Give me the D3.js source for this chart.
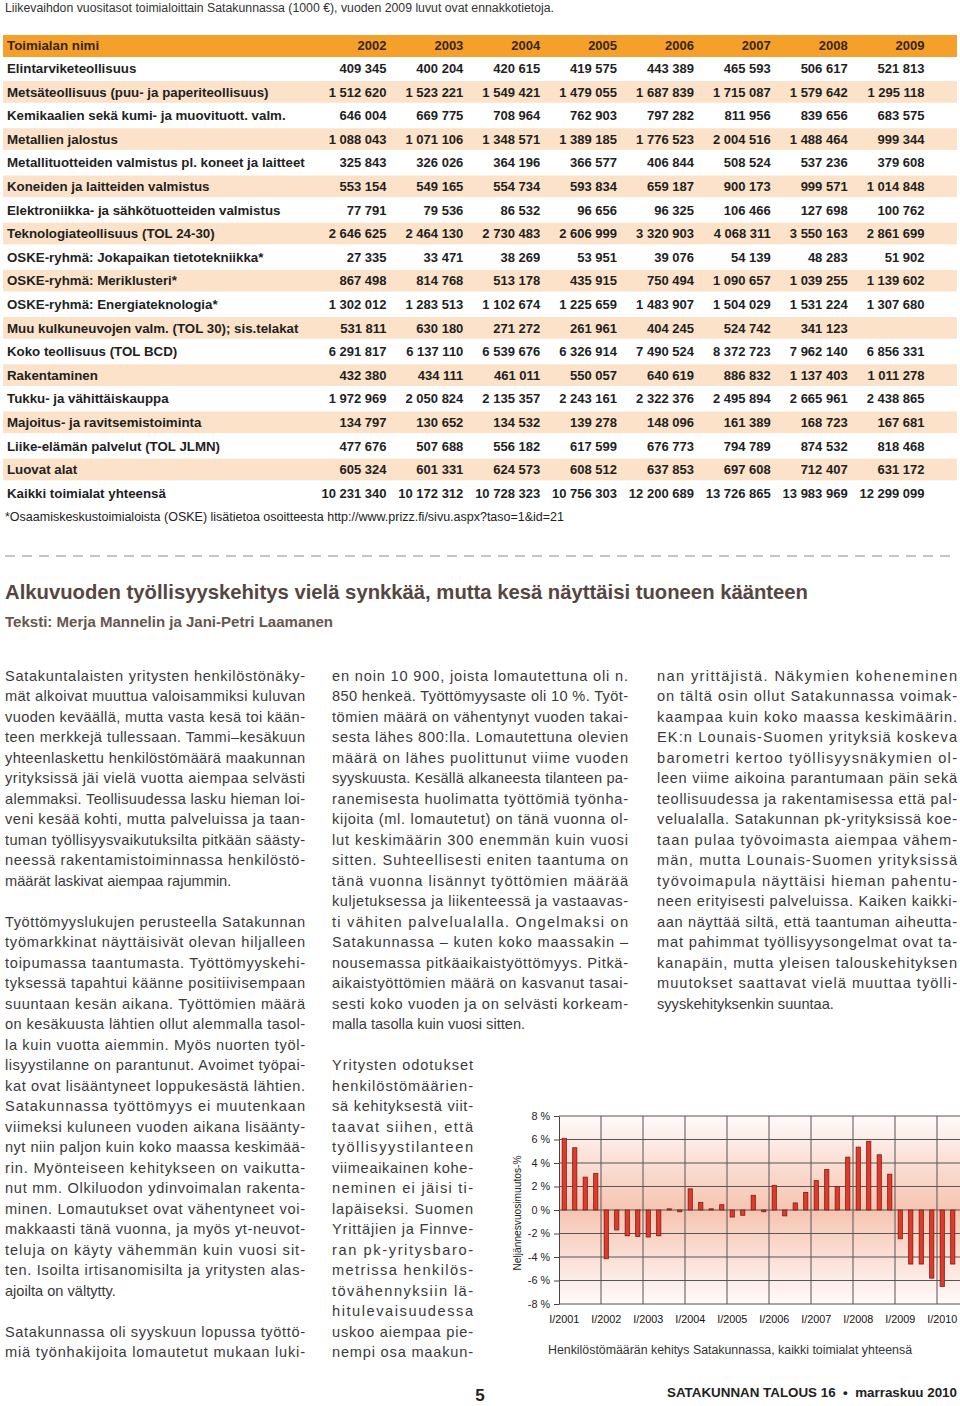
<!DOCTYPE html>
<html><head><meta charset="utf-8">
<script src="https://cdn.jsdelivr.net/npm/d3@7/dist/d3.min.js"></script>
<style>
html,body{margin:0;padding:0;background:#fff;}
svg{display:block;}
text{font-family:"Liberation Sans",Arial,sans-serif;}
</style></head>
<body>
<script>
// ---------- DATA ----------
const tableCaption = "Liikevaihdon vuositasot toimialoittain Satakunnassa (1000 €), vuoden 2009 luvut ovat ennakkotietoja.";
const tableHeader = "Toimialan nimi";
const tableYears = ["2002","2003","2004","2005","2006","2007","2008","2009"];
const industries = [
 "Elintarviketeollisuus",
 "Metsäteollisuus (puu- ja paperiteollisuus)",
 "Kemikaalien sekä kumi- ja muovituott. valm.",
 "Metallien jalostus",
 "Metallituotteiden valmistus pl. koneet ja laitteet",
 "Koneiden ja laitteiden valmistus",
 "Elektroniikka- ja sähkötuotteiden valmistus",
 "Teknologiateollisuus (TOL 24-30)",
 "OSKE-ryhmä: Jokapaikan tietotekniikka*",
 "OSKE-ryhmä: Meriklusteri*",
 "OSKE-ryhmä: Energiateknologia*",
 "Muu kulkuneuvojen valm. (TOL 30); sis.telakat",
 "Koko teollisuus (TOL BCD)",
 "Rakentaminen",
 "Tukku- ja vähittäiskauppa",
 "Majoitus- ja ravitsemistoiminta",
 "Liike-elämän palvelut (TOL JLMN)",
 "Luovat alat",
 "Kaikki toimialat yhteensä"
];
const turnover = [
 [409345,400204,420615,419575,443389,465593,506617,521813],
 [1512620,1523221,1549421,1479055,1687839,1715087,1579642,1295118],
 [646004,669775,708964,762903,797282,811956,839656,683575],
 [1088043,1071106,1348571,1389185,1776523,2004516,1488464,999344],
 [325843,326026,364196,366577,406844,508524,537236,379608],
 [553154,549165,554734,593834,659187,900173,999571,1014848],
 [77791,79536,86532,96656,96325,106466,127698,100762],
 [2646625,2464130,2730483,2606999,3320903,4068311,3550163,2861699],
 [27335,33471,38269,53951,39076,54139,48283,51902],
 [867498,814768,513178,435915,750494,1090657,1039255,1139602],
 [1302012,1283513,1102674,1225659,1483907,1504029,1531224,1307680],
 [531811,630180,271272,261961,404245,524742,341123,null],
 [6291817,6137110,6539676,6326914,7490524,8372723,7962140,6856331],
 [432380,434111,461011,550057,640619,886832,1137403,1011278],
 [1972969,2050824,2135357,2243161,2322376,2495894,2665961,2438865],
 [134797,130652,134532,139278,148096,161389,168723,167681],
 [477676,507688,556182,617599,676773,794789,874532,818468],
 [605324,601331,624573,608512,637853,697608,712407,631172],
 [10231340,10172312,10728323,10756303,12200689,13726865,13983969,12299099]
];
const footnote = "*Osaamiskeskustoimialoista (OSKE) lisätietoa osoitteesta http://www.prizz.fi/sivu.aspx?taso=1&id=21";
const headline = "Alkuvuoden työllisyyskehitys vielä synkkää, mutta kesä näyttäisi tuoneen käänteen";
const byline = "Teksti: Merja Mannelin ja Jani-Petri Laamanen";

const para1 = [
 "Satakuntalaisten yritysten henkilöstönäky-",
 "mät alkoivat muuttua valoisammiksi kuluvan",
 "vuoden keväällä, mutta vasta kesä toi kään-",
 "teen merkkejä tullessaan. Tammi–kesäkuun",
 "yhteenlaskettu henkilöstömäärä maakunnan",
 "yrityksissä jäi vielä vuotta aiempaa selvästi",
 "alemmaksi. Teollisuudessa lasku hieman loi-",
 "veni kesää kohti, mutta palveluissa ja taan-",
 "tuman työllisyysvaikutuksilta pitkään säästy-",
 "neessä rakentamistoiminnassa henkilöstö-",
 "määrät laskivat aiempaa rajummin."
];
const para2 = [
 "Työttömyyslukujen perusteella Satakunnan",
 "työmarkkinat näyttäisivät olevan hiljalleen",
 "toipumassa taantumasta. Työttömyyskehi-",
 "tyksessä tapahtui käänne positiivisempaan",
 "suuntaan kesän aikana. Työttömien määrä",
 "on kesäkuusta lähtien ollut alemmalla tasol-",
 "la kuin vuotta aiemmin. Myös nuorten työl-",
 "lisyystilanne on parantunut. Avoimet työpai-",
 "kat ovat lisääntyneet loppukesästä lähtien.",
 "Satakunnassa työttömyys ei muutenkaan",
 "viimeksi kuluneen vuoden aikana lisäänty-",
 "nyt niin paljon kuin koko maassa keskimää-",
 "rin. Myönteiseen kehitykseen on vaikutta-",
 "nut mm. Olkiluodon ydinvoimalan rakenta-",
 "minen. Lomautukset ovat vähentyneet voi-",
 "makkaasti tänä vuonna, ja myös yt-neuvot-",
 "teluja on käyty vähemmän kuin vuosi sit-",
 "ten. Isoilta irtisanomisilta ja yritysten alas-",
 "ajoilta on vältytty."
];
const para3a = [
 "Satakunnassa oli syyskuun lopussa työttö-",
 "miä työnhakijoita lomautetut mukaan luki-"
];
const para3b = [
 "en noin 10 900, joista lomautettuna oli n.",
 "850 henkeä. Työttömyysaste oli 10 %. Työt-",
 "tömien määrä on vähentynyt vuoden takai-",
 "sesta lähes 800:lla. Lomautettuna olevien",
 "määrä on lähes puolittunut viime vuoden",
 "syyskuusta. Kesällä alkaneesta tilanteen pa-",
 "ranemisesta huolimatta työttömiä työnha-",
 "kijoita (ml. lomautetut) on tänä vuonna ol-",
 "lut keskimäärin 300 enemmän kuin vuosi",
 "sitten. Suhteellisesti eniten taantuma on",
 "tänä vuonna lisännyt työttömien määrää",
 "kuljetuksessa ja liikenteessä ja vastaavas-",
 "ti vähiten palvelualalla. Ongelmaksi on",
 "Satakunnassa – kuten koko maassakin –",
 "nousemassa pitkäaikaistyöttömyys. Pitkä-",
 "aikaistyöttömien määrä on kasvanut tasai-",
 "sesti koko vuoden ja on selvästi korkeam-",
 "malla tasolla kuin vuosi sitten."
];
const para4a = [
 "Yritysten odotukset",
 "henkilöstömäärien-",
 "sä kehityksestä viit-",
 "taavat siihen, että",
 "työllisyystilanteen",
 "viimeaikainen kohe-",
 "neminen ei jäisi ti-",
 "lapäiseksi. Suomen",
 "Yrittäjien ja Finnve-",
 "ran pk-yritysbaro-",
 "metrissa henkilös-",
 "tövähennyksiin lä-",
 "hitulevaisuudessa",
 "uskoo aiempaa pie-",
 "nempi osa maakun-"
];
const para4b = [
 "nan yrittäjistä. Näkymien koheneminen",
 "on tältä osin ollut Satakunnassa voimak-",
 "kaampaa kuin koko maassa keskimäärin.",
 "EK:n Lounais-Suomen yrityksiä koskeva",
 "barometri kertoo työllisyysnäkymien ol-",
 "leen viime aikoina parantumaan päin sekä",
 "teollisuudessa ja rakentamisessa että pal-",
 "velualalla. Satakunnan pk-yrityksissä koe-",
 "taan pulaa työvoimasta aiempaa vähem-",
 "män, mutta Lounais-Suomen yrityksissä",
 "työvoimapula näyttäisi hieman pahentu-",
 "neen erityisesti palveluissa. Kaiken kaikki-",
 "aan näyttää siltä, että taantuman aiheutta-",
 "mat pahimmat työllisyysongelmat ovat ta-",
 "kanapäin, mutta yleisen talouskehityksen",
 "muutokset saattavat vielä muuttaa työlli-",
 "syyskehityksenkin suuntaa."
];

// Chart data: quarterly year-on-year change of personnel (%), I/2001 .. II/2010
const chartYears = ["2001","2002","2003","2004","2005","2006","2007","2008","2009","2010"];
const quarterNames = ["I","II","III","IV"];
const personnelChange = [
  6.1, 5.3, 2.8, 3.1,
 -4.15,-1.7,-2.2,-2.25,
 -2.3,-2.2, 0.1,-0.15,
  1.8, 0.65, 0.1, 0.45,
 -0.6,-0.45, 1.25,-0.15,
  2.1,-0.5, 0.6, 1.5,
  2.5, 3.45, 2.0, 4.5,
  5.35, 5.85, 4.7, 3.05,
 -2.45,-4.6,-4.6,-5.8,
 -6.5,-4.6
];
const yTicks = [-8,-6,-4,-2,0,2,4,6,8];
const yTitle = "Neljännesvuosimuutos-%";
const chartCaption = "Henkilöstömäärän kehitys Satakunnassa, kaikki toimialat yhteensä";
const pageNumber = "5";
const footerText = "SATAKUNNAN TALOUS 16  •  marraskuu 2010";

// ---------- DRAW ----------
const W = 960, H = 1406;
const svg = d3.select("body").append("svg").attr("width", W).attr("height", H);

function fit(sel, len, adj) {
  sel.attr("textLength", len).attr("lengthAdjust", adj || "spacingAndGlyphs");
  return sel;
}

// caption
fit(svg.append("text").attr("x", 5).attr("y", 12).attr("font-size", 12).attr("fill", "#333").text(tableCaption), 549);

// table
const fmt = v => v == null ? "" : d3.format(",")(v).replace(/,/g, " ");
const colX = d3.scalePoint().domain(tableYears).range([386.5, 924.5]);
const rowY = d3.scalePoint().domain(industries).range([68.3, 68.3 + 23.6 * 18]);

svg.append("rect").attr("x", 3).attr("y", 35).attr("width", 954).attr("height", 22).attr("fill", "#f4a02a");
svg.append("text").attr("x", 7).attr("y", 50).attr("font-size", 13.3).attr("font-weight", "bold").attr("fill", "#3a2614").text(tableHeader);
svg.selectAll(".yh").data(tableYears).join("text")
  .attr("x", d => colX(d)).attr("y", 50).attr("text-anchor", "end")
  .attr("font-size", 13).attr("font-weight", "bold").attr("fill", "#3a2614").text(d => d);

const rows = svg.selectAll(".row").data(industries).join("g").attr("class", "row");
rows.filter((d, i) => i % 2 === 1).append("rect")
  .attr("x", 3).attr("y", d => rowY(d) - 10.8).attr("width", 954).attr("height", 21.6).attr("fill", "#fbe2c9");
rows.append("text").attr("x", 7).attr("y", d => rowY(d) + 4.6)
  .attr("font-size", 13.3).attr("font-weight", "bold").attr("fill", "#1f1f1f").text(d => d);
rows.each(function(d, i) {
  d3.select(this).selectAll("text.v").data(turnover[i]).join("text").attr("class", "v")
    .attr("x", (v, j) => colX(tableYears[j])).attr("y", rowY(d) + 4.6)
    .attr("text-anchor", "end").attr("font-size", 13).attr("font-weight", "bold").attr("fill", "#1f1f1f")
    .text(v => fmt(v));
});

// footnote
fit(svg.append("text").attr("x", 5).attr("y", 521).attr("font-size", 12).attr("fill", "#222").text(footnote), 559);

// dashed separator
svg.append("line").attr("x1", 5).attr("x2", 957).attr("y1", 556).attr("y2", 556)
  .attr("stroke", "#8c8c8c").attr("stroke-width", 1.2).attr("stroke-dasharray", "10,7");

// headline & byline
fit(svg.append("text").attr("x", 5).attr("y", 599).attr("font-size", 21).attr("font-weight", "bold").attr("fill", "#554641").text(headline), 803);
fit(svg.append("text").attr("x", 5).attr("y", 627).attr("font-size", 15).attr("font-weight", "bold").attr("fill", "#66574f").text(byline), 328);

// body text
const lineH = 20.5, base0 = 680.5;
function block(lines, x, w, slot, ends) {
  lines.forEach((ln, i) => {
    const t = svg.append("text").attr("x", x).attr("y", base0 + (slot + i) * lineH)
      .attr("font-size", 14.6).attr("fill", "#3a3a3a").text(ln);
    const last = i === lines.length - 1;
    if (!(last && ends)) fit(t, w, "spacing");
  });
}
block(para1, 5, 300, 0, true);
block(para2, 5, 300, 12, true);
block(para3a, 5, 300, 32, false);
block(para3b, 332, 296, 0, true);
block(para4a, 332, 141, 19, false);
block(para4b, 657, 300, 0, true);

// ---------- CHART ----------
const plotL = 559, plotR = 979, plotT = 1116, plotB = 1304;
const quarterKeys = [];
chartYears.forEach(y => quarterNames.forEach(q => quarterKeys.push(q + "/" + y)));
const x = d3.scaleBand().domain(quarterKeys).range([plotL, plotR]).paddingInner(0.6).paddingOuter(0.3);
const xYear = d3.scaleBand().domain(chartYears).range([plotL, plotR]);
const y = d3.scaleLinear().domain([-8, 8]).range([plotB, plotT]);

const defs = svg.append("defs");
const grad = defs.append("linearGradient").attr("id", "bg").attr("x1", 0).attr("x2", 0).attr("y1", 0).attr("y2", 1);
grad.append("stop").attr("offset", "0%").attr("stop-color", "#fffafa");
grad.append("stop").attr("offset", "50%").attr("stop-color", "#f6c4b1");
grad.append("stop").attr("offset", "100%").attr("stop-color", "#fffafa");

const chart = svg.append("g");
chart.append("rect").attr("x", plotL).attr("y", plotT).attr("width", plotR - plotL).attr("height", plotB - plotT).attr("fill", "url(#bg)");
chart.selectAll(".hg").data(yTicks).join("line")
  .attr("x1", plotL).attr("x2", plotR).attr("y1", d => y(d)).attr("y2", d => y(d))
  .attr("stroke", "#555").attr("stroke-width", 1);
chart.selectAll(".vg").data(chartYears.slice(1)).join("line")
  .attr("x1", d => xYear(d)).attr("x2", d => xYear(d)).attr("y1", plotT).attr("y2", plotB)
  .attr("stroke", "#555").attr("stroke-width", 1);

chart.selectAll(".bar").data(personnelChange).join("rect")
  .attr("x", (d, i) => x(quarterKeys[i]))
  .attr("width", x.bandwidth())
  .attr("y", d => y(Math.max(0, d)))
  .attr("height", d => Math.abs(y(d) - y(0)))
  .attr("fill", "#e03a2b").attr("stroke", "#7d1c12").attr("stroke-width", 0.8);

const yAxis = chart.append("g").attr("transform", `translate(${plotL},0)`)
  .call(d3.axisLeft(y).tickValues(yTicks).tickSize(5).tickSizeOuter(0).tickFormat(d => `${d} %`));
yAxis.select(".domain").attr("stroke", "#444");
yAxis.selectAll(".tick line").attr("stroke", "#444");
yAxis.selectAll("text").attr("font-size", 10.8).attr("fill", "#222").attr("font-family", "Liberation Sans, Arial, sans-serif").attr("x", -9);

chart.selectAll(".xl").data(chartYears).join("text")
  .attr("x", d => x("I/" + d) + x.bandwidth() / 2).attr("y", 1323)
  .attr("text-anchor", "middle").attr("font-size", 10.8).attr("fill", "#111").text(d => "I/" + d);

fit(chart.append("text").attr("transform", "translate(521,1213) rotate(-90)").attr("text-anchor", "middle")
  .attr("font-size", 11).attr("fill", "#222").text(yTitle), 115);

fit(svg.append("text").attr("x", 548).attr("y", 1354).attr("font-size", 12).attr("fill", "#333").text(chartCaption), 364);

// footer
svg.append("text").attr("x", 480).attr("y", 1401).attr("text-anchor", "middle").attr("font-size", 17).attr("font-weight", "bold").attr("fill", "#222").text(pageNumber);
fit(svg.append("text").attr("x", 667).attr("y", 1397).attr("font-size", 13.5).attr("font-weight", "bold").attr("fill", "#222").attr("xml:space", "preserve").text(footerText), 290);
</script>
</body></html>
